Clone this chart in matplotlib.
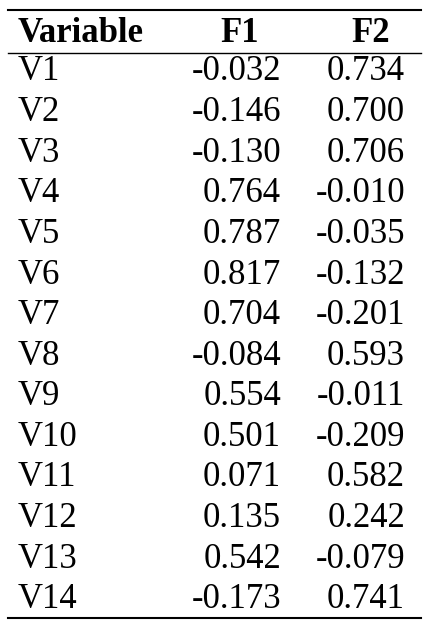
import matplotlib as mpl
mpl.use('Agg')
import matplotlib.pyplot as plt

variables = ['V1', 'V2', 'V3', 'V4', 'V5', 'V6', 'V7', 'V8', 'V9', 'V10', 'V11', 'V12', 'V13', 'V14']
f1 = [-0.032, -0.146, -0.130, 0.764, 0.787, 0.817, 0.704, -0.084, 0.554, 0.501, 0.071, 0.135, 0.542, -0.173]
f2 = [0.734, 0.700, 0.706, -0.010, -0.035, -0.132, -0.201, 0.593, -0.011, -0.209, 0.582, 0.242, -0.079, 0.741]
headers = ['Variable', 'F1', 'F2']

W, H = 429, 626
fig = plt.figure(figsize=(W / 100, H / 100), dpi=100)
ax = fig.add_axes([0, 0, 1, 1])
ax.set_xlim(0, W)
ax.set_ylim(H, 0)
ax.axis('off')

font = ['Liberation Serif', 'DejaVu Serif']
fs = 25

ax.plot([8, 421], [10, 10], color='black', lw=1.5)
ax.plot([8, 421], [53, 53], color='black', lw=1)
ax.plot([8, 421], [618, 618], color='black', lw=1.5)

ax.text(18, 33, headers[0], ha='left', va='center', family=font, fontsize=fs, fontweight='bold')
ax.text(240, 33, headers[1], ha='center', va='center', family=font, fontsize=fs, fontweight='bold')
ax.text(371, 33, headers[2], ha='center', va='center', family=font, fontsize=fs, fontweight='bold')

for i, (v, a, b) in enumerate(zip(variables, f1, f2)):
    y = 72 + i * 40.6
    ax.text(18, y, v, ha='left', va='center', family=font, fontsize=fs)
    ax.text(281, y, '%.3f' % a, ha='right', va='center', family=font, fontsize=fs)
    ax.text(405, y, '%.3f' % b, ha='right', va='center', family=font, fontsize=fs)

fig.savefig('out.png', dpi=100)
